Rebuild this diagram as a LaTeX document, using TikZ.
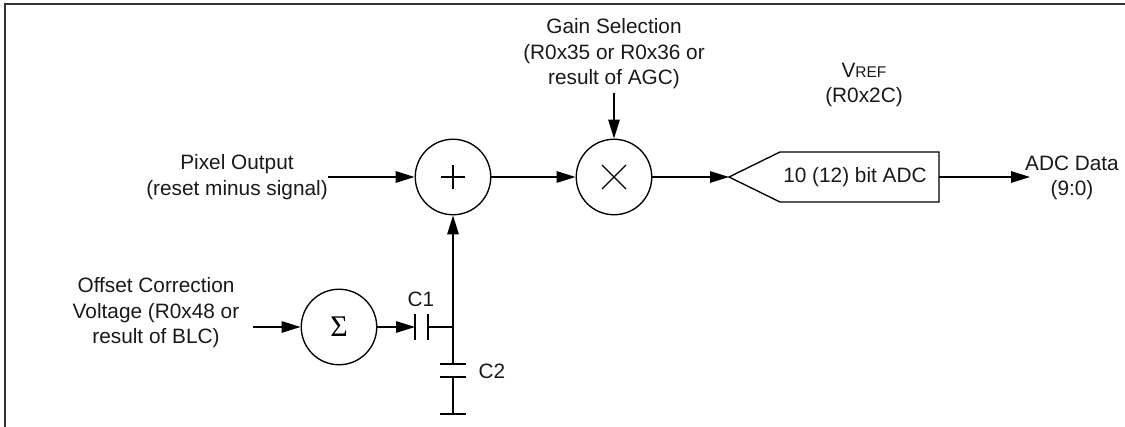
\documentclass[tikz,border=0pt]{standalone}
\usepackage{fontspec}
\setmainfont{Liberation Sans}
\newfontfamily\sigfont{Liberation Serif}
\usetikzlibrary{arrows.meta,shapes.geometric}
\tikzset{
  x=1pt,y=-1pt,
  wire/.style={line width=1.35pt,draw=black},
  sig/.style={wire,-{Triangle[length=19pt,width=11.5pt]},shorten >=0pt},
  op/.style={draw=black,line width=1.35pt,circle,minimum size=75.5pt,inner sep=0pt},
  lbl/.style={font=\fontsize{20.8}{25.5}\selectfont,align=center,inner sep=0pt,text=black!90},
}
\begin{document}
\begin{tikzpicture}
\useasboundingbox (0,0) rectangle (1125,427);
\draw[line width=1.8pt,black!80] (5,427) -- (5,4) -- (1125,4);
\node[op] (plus) at (453,177) {};
\node[op] (times) at (614,177) {};
\node[op] (sum) at (339,327) {};
\draw[wire] (441,177) -- (465,177) (453,165) -- (453,189);
\draw[wire] (602,165) -- (626,189) (602,189) -- (626,165);
\node[font=\sigfont\fontsize{30}{30}\selectfont,inner sep=0pt] (sigma) at (339,327) {Σ};
\draw[wire,line join=miter] (729,177) -- (780,152) -- (939,152) -- (939,202) -- (780,202) -- cycle;
\coordinate (adcin) at (729,177);
\coordinate (adcout) at (939,177);
\coordinate (dout) at (1030,177);
\coordinate (pin) at (328,177);
\coordinate (gin) at (614,93);
\coordinate (oin) at (253,327);
\coordinate (c1l) at (415,327);
\coordinate (c1r) at (428,327);
\coordinate (junc) at (453,327);
\coordinate (c2t) at (453,364);
\coordinate (c2b) at (453,377);
\coordinate (gnd) at (453,414);
\draw[sig] (pin) -- (plus);
\draw[sig] (plus) -- (times);
\draw[sig] (gin) -- (times);
\draw[sig] (times) -- (adcin);
\draw[sig] (adcout) -- (dout);
\draw[sig] (oin) -- (sum);
\draw[sig] (sum) -- (c1l);
\draw[sig] (junc) -- (plus);
\draw[wire] (c1r) -- (junc) -- (c2t);
\draw[wire] (c2b) -- (gnd);
\draw[wire] (415,314) -- (415,340) (428,314) -- (428,340);
\draw[wire] (440,364) -- (466,364) (440,377) -- (466,377) (440,414) -- (466,414);
\node[lbl] (pix) at (237,177) {Pixel Output\\(reset minus signal)};
\node[lbl] (gain) at (614,54) {Gain Selection\\(R0x35 or R0x36 or\\result of AGC)};
\node[lbl] (off) at (156,313) {Offset Correction\\Voltage (R0x48 or\\result of BLC)};
\node[lbl] (vref) at (864,85) {V{\fontsize{15.5}{15.5}\selectfont REF}\\(R0x2C)};
\node[lbl] (adc) at (855,177) {10 (12) bit ADC};
\node[lbl] (data) at (1072,178) {ADC Data\\(9:0)};
\node[lbl] (c1) at (421,299) {C1};
\node[lbl] (c2) at (492,371) {C2};
\end{tikzpicture}
\end{document}
